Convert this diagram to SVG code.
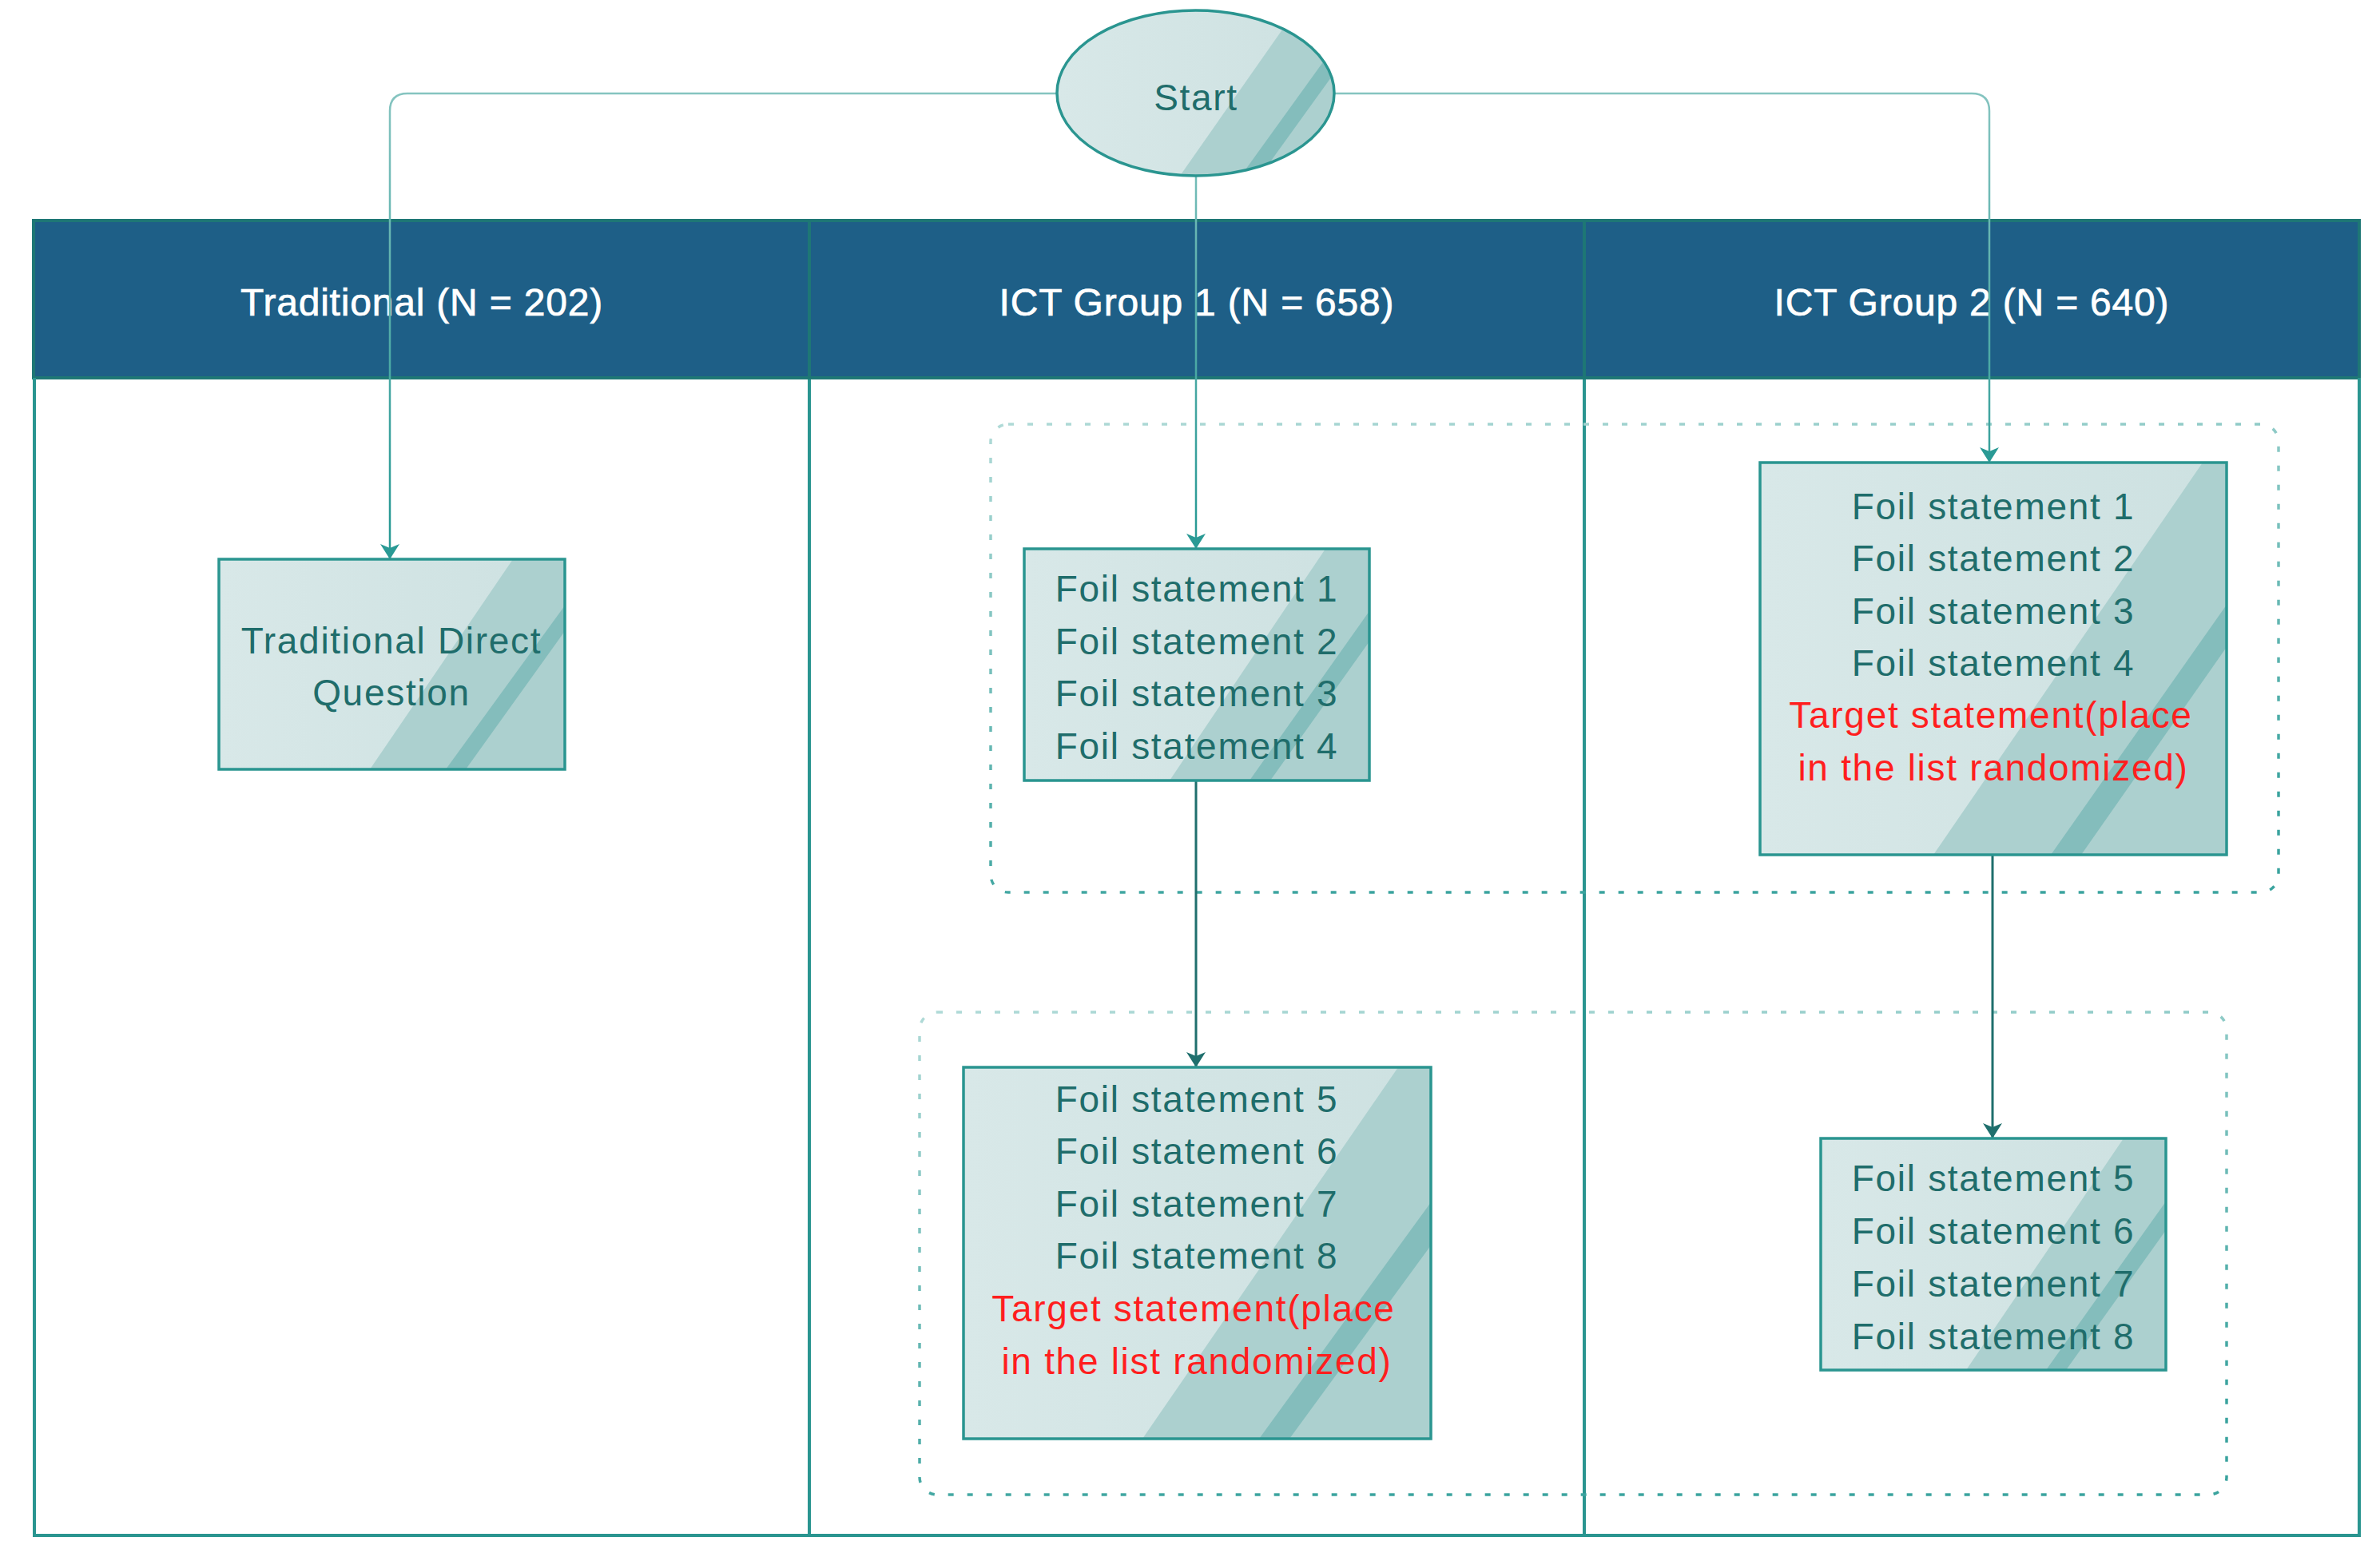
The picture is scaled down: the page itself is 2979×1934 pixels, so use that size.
<svg xmlns="http://www.w3.org/2000/svg" width="2979" height="1934" viewBox="0 0 2979 1934">
<defs>
<style>
.lane{fill:none;stroke:#2a9590;stroke-width:4}
.hdr{fill:#1e5f87;stroke:#1e7775;stroke-width:4}
.hdiv{stroke:#1e7775;stroke-width:4}
.htxt{font-family:"Liberation Sans",Arial,sans-serif;font-size:48px;fill:#ffffff;stroke:#ffffff;stroke-width:0.7px;text-anchor:middle;letter-spacing:0.8px}
.bf{fill:url(#bg)}
.shade{fill:#acd0cf}
.stripe{fill:#84bdbc}
.frame{fill:none;stroke:#2a9590;stroke-width:3.5}
.t{font-family:"Liberation Sans",Arial,sans-serif;font-size:46px;fill:#1f6d6b;text-anchor:middle;letter-spacing:1.7px}
.red{fill:#ff1e1e}
.grp{fill:none;stroke:url(#dg);stroke-width:3.5;stroke-dasharray:7 17}
.c1{fill:none;stroke:url(#cg);stroke-width:2.5;marker-end:url(#ah)}
.c2{fill:none;stroke:#1f6f6d;stroke-width:3;marker-end:url(#ah2)}
</style>
<linearGradient id="bg" x1="0" y1="0" x2="1" y2="0">
<stop offset="0" stop-color="#d8e8e8"/>
<stop offset="1" stop-color="#cde1e1"/>
</linearGradient>
<linearGradient id="dg" x1="0" y1="0" x2="0.3" y2="1">
<stop offset="0" stop-color="#b0dad7"/>
<stop offset="1" stop-color="#3aa39e"/>
</linearGradient>
<linearGradient id="cg" gradientUnits="userSpaceOnUse" x1="0" y1="117" x2="0" y2="650">
<stop offset="0" stop-color="#85c4c0"/>
<stop offset="1" stop-color="#2a9a95"/>
</linearGradient>
<clipPath id="ec"><ellipse cx="1496.5" cy="116.5" rx="173.5" ry="103.5"/></clipPath>
<marker id="ah" markerUnits="userSpaceOnUse" markerWidth="20" markerHeight="26" viewBox="0 -13 20 26" refX="19" refY="0" orient="auto"><path d="M0,-12 L19,0 L0,12 L5,0 Z" fill="#2a9a95"/></marker>
<marker id="ah2" markerUnits="userSpaceOnUse" markerWidth="20" markerHeight="26" viewBox="0 -13 20 26" refX="19" refY="0" orient="auto"><path d="M0,-12 L19,0 L0,12 L5,0 Z" fill="#1f6f6d"/></marker>
</defs>

<g id="lanes">
<rect class="hdr" x="42" y="276" width="2911" height="197"/>
<line class="hdiv" x1="1013" y1="276" x2="1013" y2="473"/>
<line class="hdiv" x1="1983" y1="276" x2="1983" y2="473"/>
<path class="lane" d="M43,473 V1922 H2953 V473"/>
<line class="lane" x1="1013" y1="475" x2="1013" y2="1922"/>
<line class="lane" x1="1983" y1="475" x2="1983" y2="1922"/>
<text class="htxt" x="528" y="395">Traditional (N = 202)</text>
<text class="htxt" x="1498" y="395">ICT Group 1 (N = 658)</text>
<text class="htxt" x="2468" y="395">ICT Group 2 (N = 640)</text>
</g>

<g id="groups">
<rect id="group1" class="grp" x="1240" y="531" width="1612" height="586" rx="22"/>
<rect id="group2" class="grp" x="1151" y="1267" width="1636" height="604" rx="22"/>
</g>

<g id="connectors">
<path class="c1" d="M1323,117 H510 Q488,117 488,139 V700"/>
<path class="c1" d="M1670,117 H2468 Q2490,117 2490,139 V579"/>
<path class="c1" d="M1497,220 V687"/>
<path class="c2" d="M1497,977 V1336"/>
<path class="c2" d="M2494,1070 V1425"/>
</g>

<g id="start">
<ellipse class="bf" cx="1496.5" cy="116.5" rx="173.5" ry="103.5"/>
<g clip-path="url(#ec)">
<polygon class="shade" points="1631,0 1700,0 1700,240 1463,240"/>
<polygon class="stripe" points="1539,240 1563,240 1736,0 1712,0"/>
</g>
<ellipse class="frame" cx="1496.5" cy="116.5" rx="173.5" ry="103.5"/>
<text class="t" x="1497" y="138">Start</text>
</g>

<g id="traditional-direct-question">
<rect class="bf" x="274" y="700" width="433" height="263"/>
<polygon class="shade" points="642,700 707,700 707,963 463,963"/>
<polygon class="stripe" points="558,963 583,963 707,790 707,758"/>
<rect class="frame" x="274" y="700" width="433" height="263"/>
<text class="t" x="490" y="818">Traditional Direct</text>
<text class="t" x="490" y="883">Question</text>
</g>

<g id="ict1-foil-1-4">
<rect class="bf" x="1282" y="687" width="432" height="290"/>
<polygon class="shade" points="1659,687 1714,687 1714,977 1464,977"/>
<polygon class="stripe" points="1564,977 1590,977 1714,803 1714,765"/>
<rect class="frame" x="1282" y="687" width="432" height="290"/>
<text class="t" x="1498" y="753">Foil statement 1</text>
<text class="t" x="1498" y="819">Foil statement 2</text>
<text class="t" x="1498" y="884">Foil statement 3</text>
<text class="t" x="1498" y="950">Foil statement 4</text>
</g>

<g id="ict2-foil-1-4-target">
<rect class="bf" x="2203" y="579" width="584" height="491"/>
<polygon class="shade" points="2757,579 2787,579 2787,1070 2420,1070"/>
<polygon class="stripe" points="2567,1070 2605,1070 2787,810 2787,757"/>
<rect class="frame" x="2203" y="579" width="584" height="491"/>
<text class="t" x="2495" y="650">Foil statement 1</text>
<text class="t" x="2495" y="715">Foil statement 2</text>
<text class="t" x="2495" y="781">Foil statement 3</text>
<text class="t" x="2495" y="846">Foil statement 4</text>
<text class="t red" x="2492" y="911">Target statement(place</text>
<text class="t red" x="2495" y="977">in the list randomized)</text>
</g>

<g id="ict1-foil-5-8-target">
<rect class="bf" x="1206" y="1336" width="585" height="465"/>
<polygon class="shade" points="1750,1336 1791,1336 1791,1801 1430,1801"/>
<polygon class="stripe" points="1576,1801 1614,1801 1791,1559 1791,1505"/>
<rect class="frame" x="1206" y="1336" width="585" height="465"/>
<text class="t" x="1498" y="1392">Foil statement 5</text>
<text class="t" x="1498" y="1457">Foil statement 6</text>
<text class="t" x="1498" y="1523">Foil statement 7</text>
<text class="t" x="1498" y="1588">Foil statement 8</text>
<text class="t red" x="1494" y="1654">Target statement(place</text>
<text class="t red" x="1498" y="1720">in the list randomized)</text>
</g>

<g id="ict2-foil-5-8">
<rect class="bf" x="2279" y="1425" width="432" height="290"/>
<polygon class="shade" points="2658,1425 2711,1425 2711,1715 2461,1715"/>
<polygon class="stripe" points="2561,1715 2586,1715 2711,1540 2711,1504"/>
<rect class="frame" x="2279" y="1425" width="432" height="290"/>
<text class="t" x="2495" y="1491">Foil statement 5</text>
<text class="t" x="2495" y="1557">Foil statement 6</text>
<text class="t" x="2495" y="1623">Foil statement 7</text>
<text class="t" x="2495" y="1689">Foil statement 8</text>
</g>
</svg>
